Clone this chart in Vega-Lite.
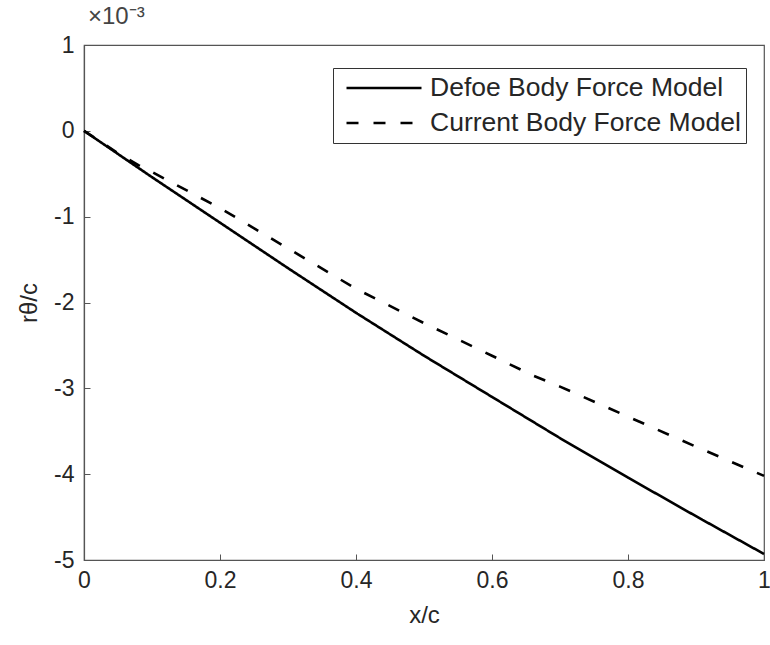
{
  "$schema": "https://vega.github.io/schema/vega-lite/v6.json",
  "width": 680,
  "height": 515,
  "autosize": {"type": "none"},
  "padding": {"left": 84, "top": 45, "right": 6, "bottom": 85},
  "background": "white",
  "config": {
    "font": "Liberation Sans",
    "view": {"stroke": "#555", "strokeWidth": 1.2},
    "axis": {
      "domainColor": "#555",
      "domainWidth": 1.2,
      "tickColor": "#555",
      "tickSize": -6,
      "grid": false,
      "labelColor": "#262626",
      "labelFont": "Liberation Sans",
      "labelFontSize": 23,
      "titleFont": "Liberation Sans",
      "titleFontSize": 24,
      "titleFontWeight": "normal",
      "titleColor": "#262626"
    }
  },
  "title": {
    "text": "×10⁻³",
    "anchor": "start",
    "frame": "group",
    "fontSize": 24,
    "fontWeight": "normal",
    "color": "#444",
    "offset": 5,
    "dx": 4
  },
  "data": {
    "values": [
      {"x": 0.0, "y": 0.0, "model": "Defoe Body Force Model"},
      {"x": 0.05, "y": -0.00027, "model": "Defoe Body Force Model"},
      {"x": 0.1, "y": -0.00054, "model": "Defoe Body Force Model"},
      {"x": 0.2, "y": -0.00107, "model": "Defoe Body Force Model"},
      {"x": 0.3, "y": -0.0016, "model": "Defoe Body Force Model"},
      {"x": 0.4, "y": -0.00212, "model": "Defoe Body Force Model"},
      {"x": 0.5, "y": -0.00262, "model": "Defoe Body Force Model"},
      {"x": 0.6, "y": -0.0031, "model": "Defoe Body Force Model"},
      {"x": 0.7, "y": -0.00358, "model": "Defoe Body Force Model"},
      {"x": 0.8, "y": -0.00404, "model": "Defoe Body Force Model"},
      {"x": 0.9, "y": -0.00449, "model": "Defoe Body Force Model"},
      {"x": 1.0, "y": -0.00493, "model": "Defoe Body Force Model"},
      {"x": 0.0, "y": 0.0, "model": "Current Body Force Model"},
      {"x": 0.05, "y": -0.00026, "model": "Current Body Force Model"},
      {"x": 0.08, "y": -0.0004, "model": "Current Body Force Model"},
      {"x": 0.1, "y": -0.00048, "model": "Current Body Force Model"},
      {"x": 0.2, "y": -0.0009, "model": "Current Body Force Model"},
      {"x": 0.3, "y": -0.00137, "model": "Current Body Force Model"},
      {"x": 0.4, "y": -0.00184, "model": "Current Body Force Model"},
      {"x": 0.5, "y": -0.00224, "model": "Current Body Force Model"},
      {"x": 0.6, "y": -0.00262, "model": "Current Body Force Model"},
      {"x": 0.66, "y": -0.00285, "model": "Current Body Force Model"},
      {"x": 0.7, "y": -0.00298, "model": "Current Body Force Model"},
      {"x": 0.8, "y": -0.00333, "model": "Current Body Force Model"},
      {"x": 0.9, "y": -0.00368, "model": "Current Body Force Model"},
      {"x": 1.0, "y": -0.00402, "model": "Current Body Force Model"}
    ]
  },
  "mark": {"type": "line", "color": "black", "strokeWidth": 2.6},
  "encoding": {
    "x": {
      "field": "x",
      "type": "quantitative",
      "scale": {"domain": [0, 1], "nice": false, "zero": false},
      "axis": {
        "values": [0, 0.2, 0.4, 0.6, 0.8, 1],
        "labelExpr": "'' + datum.value",
        "title": "x/c",
        "labelPadding": 15,
        "titlePadding": 11,
        "labelFlush": false
      }
    },
    "y": {
      "field": "y",
      "type": "quantitative",
      "scale": {"domain": [-0.005, 0.001], "nice": false},
      "axis": {
        "values": [0.001, 0, -0.001, -0.002, -0.003, -0.004, -0.005],
        "labelExpr": "'' + round(datum.value*1000)",
        "title": "rθ/c",
        "labelPadding": 16,
        "titlePadding": 12
      }
    },
    "strokeDash": {
      "field": "model",
      "type": "nominal",
      "scale": {
        "domain": ["Defoe Body Force Model", "Current Body Force Model"],
        "range": [[1, 0], [12, 15]]
      },
      "legend": {
        "title": null,
        "orient": "none",
        "legendX": 249,
        "legendY": 23,
        "symbolType": "stroke",
        "symbolSize": 5625,
        "symbolOffset": 7,
        "symbolStrokeWidth": 2.6,
        "symbolStrokeColor": "black",
        "clipHeight": 30,
        "labelFontSize": 26.5,
        "labelColor": "#262626",
        "labelLimit": 450,
        "labelOffset": 7,
        "rowPadding": 5,
        "padding": 5,
        "strokeColor": "#333",
        "fillColor": "white"
      }
    }
  }
}
